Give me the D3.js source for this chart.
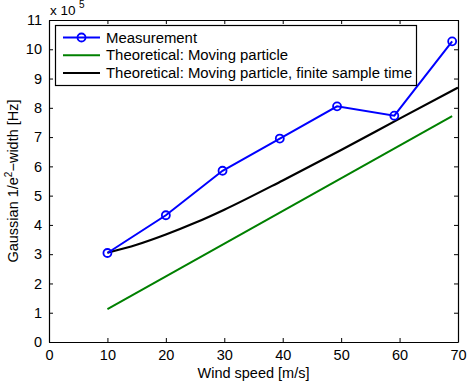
<!DOCTYPE html>
<style>
    body, html { margin: 0; padding: 0; background: #fff; }
    svg text { font-family: "Liberation Sans", Arial, sans-serif; }
</style>
<svg width="467" height="382"></svg>
<script src="https://d3js.org/d3.v7.min.js"></script>
<script>
    // values in units of 1e5 Hz
    var measSpeed = [10, 20, 29.7, 39.5, 49.3, 59.1, 69];
    var measWidth = [3.04, 4.33, 5.85, 6.95, 8.05, 7.73, 10.27];

    var theorySpeed = [10, 69];
    var theoryWidth = [1.12, 7.72];

    var finiteSpeed = [10, 15, 20, 25, 30, 40, 50, 60, 70];
    var finiteWidth = [3.05, 3.32, 3.67, 4.07, 4.52, 5.52, 6.56, 7.63, 8.69];

    var xTicks = [0, 10, 20, 30, 40, 50, 60, 70];
    var yTicks = [0, 1, 2, 3, 4, 5, 6, 7, 8, 9, 10, 11];

    var legendLabels = ["Measurement", "Theoretical: Moving particle", "Theoretical: Moving particle, finite sample time"];
    var colors = ["#0000ff", "#008000", "#000000"];

    var svg = d3.select("svg");
    var mLeft = 49, mRight = 458, mTop = 20, mBottom = 342;
    var fs = 14.5;

    var x = d3.scaleLinear().domain([0, 70]).range([mLeft, mRight]);
    var y = d3.scaleLinear().domain([0, 11]).range([mBottom, mTop]);

    // axes box with inward ticks
    svg.append("g").attr("transform", "translate(0," + mBottom + ")")
        .call(d3.axisBottom(x).tickValues(xTicks).tickSizeInner(-4).tickSizeOuter(0).tickPadding(8));
    svg.append("g").attr("transform", "translate(0," + mTop + ")")
        .call(d3.axisTop(x).tickValues(xTicks).tickSizeInner(-4).tickSizeOuter(0).tickFormat(""));
    svg.append("g").attr("transform", "translate(" + mLeft + ",0)")
        .call(d3.axisLeft(y).tickValues(yTicks).tickSizeInner(-4).tickSizeOuter(0).tickPadding(7));
    svg.append("g").attr("transform", "translate(" + mRight + ",0)")
        .call(d3.axisRight(y).tickValues(yTicks).tickSizeInner(-4).tickSizeOuter(0).tickFormat(""));

    svg.selectAll(".domain").attr("stroke", "#000").attr("stroke-width", 1.2);
    svg.selectAll(".tick line").attr("stroke", "#000");
    svg.selectAll(".tick text").attr("font-size", fs).attr("fill", "#000")
        .attr("font-family", "Liberation Sans, Arial, sans-serif");

    var line = d3.line().x(function (d) { return x(d[0]); }).y(function (d) { return y(d[1]); });

    // green theoretical
    svg.append("path")
        .datum(d3.zip(theorySpeed, theoryWidth))
        .attr("d", line)
        .attr("fill", "none").attr("stroke", colors[1]).attr("stroke-width", 2);

    // black theoretical, finite sample time
    svg.append("path")
        .datum(d3.zip(finiteSpeed, finiteWidth))
        .attr("d", line.curve(d3.curveMonotoneX))
        .attr("fill", "none").attr("stroke", colors[2]).attr("stroke-width", 2.2);
    line.curve(d3.curveLinear);

    // measurement
    var meas = d3.zip(measSpeed, measWidth);
    svg.append("path")
        .datum(meas)
        .attr("d", line)
        .attr("fill", "none").attr("stroke", colors[0]).attr("stroke-width", 2);
    svg.append("g").selectAll("circle")
        .data(meas)
        .enter().append("circle")
        .attr("cx", function (d) { return x(d[0]); })
        .attr("cy", function (d) { return y(d[1]); })
        .attr("r", 4)
        .attr("fill", "none").attr("stroke", colors[0]).attr("stroke-width", 1.8);

    // exponent
    svg.append("text").attr("x", 50).attr("y", 15).attr("font-size", fs - 1).text("x 10");
    svg.append("text").attr("x", 79).attr("y", 8).attr("font-size", 10).text("5");

    // axis labels
    svg.append("text").attr("x", (mLeft + mRight) / 2).attr("y", 378)
        .attr("text-anchor", "middle").attr("font-size", fs).text("Wind speed [m/s]");
    var yl = svg.append("text")
        .attr("transform", "translate(18," + ((mTop + mBottom) / 2) + ") rotate(-90)")
        .attr("text-anchor", "middle").attr("font-size", fs);
    yl.append("tspan").text("Gaussian 1/e");
    yl.append("tspan").attr("dy", -6).attr("font-size", 10).text("2");
    yl.append("tspan").attr("dy", 6).text("\u2212width [Hz]");

    // legend
    var lg = svg.append("g");
    lg.append("rect").attr("x", 55.5).attr("y", 25.5).attr("width", 361).attr("height", 60)
        .attr("fill", "#fff").attr("stroke", "#000").attr("stroke-width", 1.2);
    legendLabels.forEach(function (label, i) {
        var ly = 37.5 + i * 17.7;
        lg.append("line").attr("x1", 63).attr("x2", 100).attr("y1", ly).attr("y2", ly)
            .attr("stroke", colors[i]).attr("stroke-width", 2);
        if (i === 0) {
            lg.append("circle").attr("cx", 81.5).attr("cy", ly).attr("r", 4)
                .attr("fill", "none").attr("stroke", colors[i]).attr("stroke-width", 1.8);
        }
        lg.append("text").attr("x", 106).attr("y", ly + 5).attr("font-size", 14.9).text(label);
    });
</script>
